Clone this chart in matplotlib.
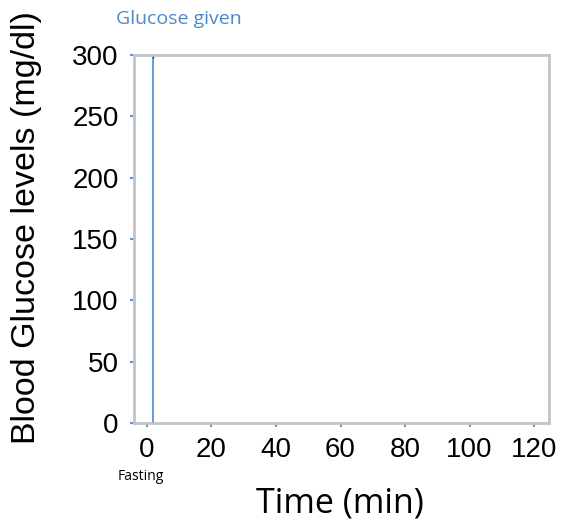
import matplotlib
matplotlib.use('Agg')
import matplotlib.pyplot as plt

# data
glucose_time = [2, 2]
glucose_level = [0, 300]
x_ticks = [0, 20, 40, 60, 80, 100, 120]
y_ticks = [0, 50, 100, 150, 200, 250, 300]

fig = plt.figure(figsize=(5.61, 5.2), dpi=100)
ax = fig.add_axes([0.2389, 0.1865, 0.7397, 0.7077])

ax.plot(glucose_time, glucose_level, color='#4a8ac8', lw=1.2)
ax.plot([glucose_time[1]], [glucose_level[1]], marker='|', color='#333333', ms=4, mew=1)

ax.set_xlim(-4, 124.6)
ax.set_ylim(0, 300)
ax.set_xticks(x_ticks)
ax.set_yticks(y_ticks)

for s in ax.spines.values():
    s.set_color('#c4c4c4')
    s.set_linewidth(2)

ax.tick_params(direction='out', length=3, width=1.5, color='#5b9bd5', labelsize=20)
ax.tick_params(axis='y', pad=8)
ax.tick_params(axis='x', pad=7)
for lab in ax.get_xticklabels() + ax.get_yticklabels():
    lab.set_family('Liberation Sans')

ax.set_ylabel('Blood Glucose levels (mg/dl)', fontsize=24.5, family='Liberation Sans', va='center')
ax.yaxis.set_label_coords(-0.26, 0.53)
ax.set_xlabel('Time (min)', fontsize=24.5, family='Open Sans', va='top')
ax.xaxis.set_label_coords(0.496, -0.172)

ax.text(-0.043, 1.098, 'Glucose given', transform=ax.transAxes,
        color='#4a8ac8', fontsize=14, family='Open Sans', ha='left', va='center')
ax.text(-1.9, -0.144, 'Fasting', transform=ax.get_xaxis_transform(),
        fontsize=10, family='Open Sans', ha='center', va='center')

fig.savefig('out.png', dpi=100)
